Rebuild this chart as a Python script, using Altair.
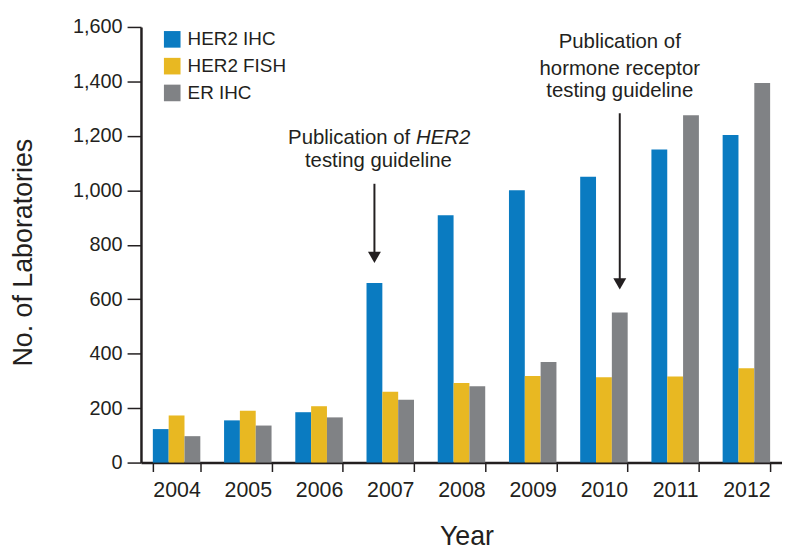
import altair as alt
import pandas as pd

# ---- data ----
years = ["2004", "2005", "2006", "2007", "2008", "2009", "2010", "2011", "2012"]
series = ["HER2 IHC", "HER2 FISH", "ER IHC"]
her2_ihc = [123, 155, 185, 660, 908, 1000, 1050, 1150, 1203]
her2_fish = [173, 190, 207, 260, 292, 318, 313, 316, 346]
er_ihc = [97, 136, 166, 231, 280, 369, 551, 1276, 1394]
colors = ["#0a7bc1", "#e8b822", "#808285"]
y_ticks = [0, 200, 400, 600, 800, 1000, 1200, 1400, 1600]

rows = []
for i, yr in enumerate(years):
    rows.append({"Year": yr, "Series": series[0], "Labs": her2_ihc[i]})
    rows.append({"Year": yr, "Series": series[1], "Labs": her2_fish[i]})
    rows.append({"Year": yr, "Series": series[2], "Labs": er_ihc[i]})
df = pd.DataFrame(rows)

# annotation arrows (data coordinates): year, series bar pointed at, top and tip values
arrow_year = ["2007", "2010"]
arrow_series = ["HER2 IHC", "ER IHC"]
arrow_top = [1024, 1283]
arrow_head = [754, 656]
arrows = pd.DataFrame({"Year": arrow_year, "Series": arrow_series,
                       "top": arrow_top, "head": arrow_head})

# annotation text lines
note1_lines = ["testing guideline"]
note1_y = [1108]
note1a_text = ["Publication of"]
note1b_text = ["HER2"]
note1ab_y = [1192]
note2_lines = ["Publication of", "hormone receptor", "testing guideline"]
note2_y = [1545, 1445, 1363]

ink = "#231f20"
FONT = "Liberation Sans"

x_enc = alt.X("Year:N", sort=years, title="Year",
              scale=alt.Scale(paddingInner=1/3, paddingOuter=1/6),
              axis=alt.Axis(labelAngle=0, tickBand="extent", tickSize=9,
                            tickWidth=1.5, tickColor=ink, domainColor=ink,
                            domainWidth=2.5, labelFontSize=21.5, labelColor=ink,
                            labelPadding=8, titleFontSize=27, titleColor=ink,
                            titleFontWeight="normal", titlePadding=23, titleX=328))
y_scale = alt.Scale(domain=[0, 1600], nice=False)
xo_enc = alt.XOffset("Series:N", sort=series, scale=alt.Scale(paddingInner=0, paddingOuter=0))

bars = alt.Chart(df).mark_bar().encode(
    x=x_enc,
    xOffset=xo_enc,
    y=alt.Y("Labs:Q", scale=y_scale, title="No. of Laboratories",
            axis=alt.Axis(values=y_ticks, format=",d", grid=False, tickSize=14,
                          tickWidth=1.5, tickColor=ink, domainColor=ink,
                          domainWidth=2.5, labelFontSize=20, labelColor=ink,
                          labelPadding=5, titleFontSize=27, titleColor=ink,
                          titleFontWeight="normal", titlePadding=35, titleY=227)),
    color=alt.Color("Series:N", sort=series,
                    scale=alt.Scale(domain=series, range=colors),
                    legend=alt.Legend(title=None, orient="none", legendX=22, legendY=3,
                                      symbolType="square", symbolSize=280,
                                      symbolStrokeWidth=0, labelFontSize=19,
                                      labelColor=ink, rowPadding=7, labelOffset=6)),
)

shaft = alt.Chart(arrows).mark_rule(color=ink, strokeWidth=2).encode(
    x=alt.X("Year:N", sort=years),
    xOffset=alt.XOffset("Series:N", sort=series),
    y=alt.Y("top:Q", scale=y_scale),
    y2="head:Q",
)
head = alt.Chart(arrows).mark_point(shape="triangle-down", filled=True, color=ink,
                                    size=170, opacity=1).encode(
    x=alt.X("Year:N", sort=years),
    xOffset=alt.XOffset("Series:N", sort=series),
    y=alt.Y("head:Q", scale=y_scale),
)

n1 = pd.DataFrame({"Year": ["2007"], "Series": ["HER2 IHC"], "t": note1_lines, "y": note1_y})
n1a = pd.DataFrame({"Year": ["2007"], "Series": ["HER2 IHC"], "t": note1a_text, "y": note1ab_y})
n1b = pd.DataFrame({"Year": ["2007"], "Series": ["HER2 IHC"], "t": note1b_text, "y": note1ab_y})
n2 = pd.DataFrame({"Year": ["2010"] * 3, "Series": ["ER IHC"] * 3, "t": note2_lines, "y": note2_y})

def text_layer(d, align, dx, style="normal"):
    return alt.Chart(d).mark_text(fontSize=20.5, color=ink, align=align, baseline="middle",
                                  dx=dx, fontStyle=style, font=FONT).encode(
        x=alt.X("Year:N", sort=years),
        xOffset=alt.XOffset("Series:N", sort=series),
        y=alt.Y("y:Q", scale=y_scale),
        text="t:N",
    )

t1 = text_layer(n1, "center", 4)
t1a = text_layer(n1a, "right", 36)
t1b = text_layer(n1b, "left", 42, "italic")
t2 = text_layer(n2, "center", 0)

chart = alt.layer(bars, shaft, head, t1, t1a, t1b, t2).properties(
    width=646, height=439,
    autosize=alt.AutoSizeParams(type="none"),
    padding={"left": 134, "top": 17, "right": 0, "bottom": 86},
).configure(font=FONT).configure_view(stroke=None)

chart.save("out.html", embed_options={"renderer": "svg", "actions": False})
